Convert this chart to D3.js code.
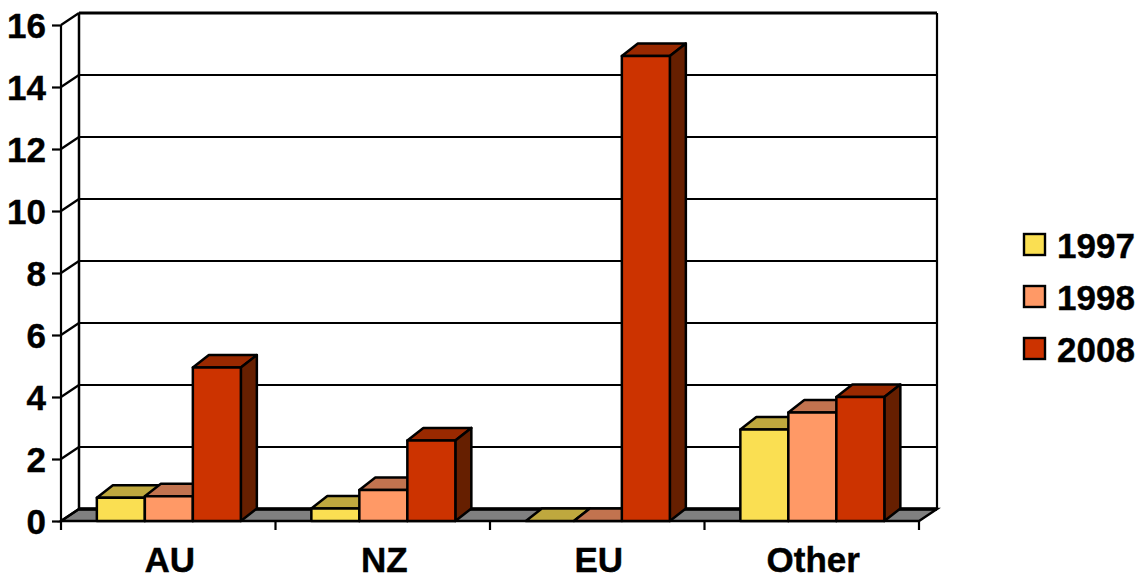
<!DOCTYPE html>
<html>
<head>
<meta charset="utf-8">
<script src="https://cdn.jsdelivr.net/npm/d3@7"></script>
<style>
    html, body { margin: 0; padding: 0; background: #fff; }
    svg { display: block; }
    text { font-family: "Liberation Sans", Arial, sans-serif; font-weight: bold; fill: #000; stroke: #000; stroke-width: 0.4px; }
</style>
</head>
<body>
<div id="chart"></div>
<script>
const categories = ["AU", "NZ", "EU", "Other"];
const seriesNames = ["1997", "1998", "2008"];
const values1997 = [0.75, 0.4, 0, 2.95];
const values1998 = [0.8, 1, 0, 3.5];
const values2008 = [4.95, 2.6, 15, 4];
const yTicks = [0, 2, 4, 6, 8, 10, 12, 14, 16];

const frontColors = ["#fadf52", "#ff9966", "#cc3300"];
const topColors = ["#bfa83e", "#c2734f", "#992900"];
const sideColors = ["#8f7f30", "#995c3d", "#661f00"];

const allValues = [values1997, values1998, values2008];

const width = 1148, height = 579;
const plotLeft = 61, plotRight = 919, plotBottom = 521, plotTop = 25;
const wallDx = 18, wallDy = 12;   // depth of the floor and walls
const barDx = 16, barDy = 12.5;   // depth of a bar

const svg = d3.select("#chart").append("svg")
    .attr("width", width)
    .attr("height", height);

const x = d3.scaleBand().domain(categories).range([plotLeft, plotRight]);
const y = d3.scaleLinear().domain([0, 16]).range([plotBottom, plotTop]);
const inner = d3.scaleBand().domain(seriesNames).range([0, 144]);
const barOffset = (x.bandwidth() - 144) / 2 + 0.6;

const poly = pts => "M" + pts.map(p => p.join(",")).join("L") + "Z";

// floor
svg.append("path")
    .attr("d", poly([[plotLeft, plotBottom], [plotLeft + wallDx, plotBottom - wallDy], [plotRight + wallDx, plotBottom - wallDy], [plotRight, plotBottom]]))
    .attr("fill", "#808080")
    .attr("stroke", "#000")
    .attr("stroke-width", 2.4);

svg.append("line")
    .attr("x1", plotLeft + wallDx).attr("x2", plotRight + wallDx)
    .attr("y1", plotBottom - wallDy).attr("y2", plotBottom - wallDy)
    .attr("stroke", "#000").attr("stroke-width", 3.5);

// grid on the back wall and the left side wall
yTicks.filter(d => d > 0).forEach(d => {
    svg.append("line")
        .attr("x1", plotLeft + wallDx).attr("x2", plotRight + wallDx)
        .attr("y1", y(d) - wallDy).attr("y2", y(d) - wallDy)
        .attr("stroke", "#000")
        .attr("stroke-width", d === 16 ? 2.8 : 1.8);
});
yTicks.forEach(d => {
    svg.append("line")
        .attr("x1", plotLeft).attr("x2", plotLeft + wallDx)
        .attr("y1", y(d)).attr("y2", y(d) - wallDy)
        .attr("stroke", "#000").attr("stroke-width", 2.2);
});
svg.append("line")
    .attr("x1", plotLeft + wallDx).attr("x2", plotLeft + wallDx)
    .attr("y1", y(16) - wallDy).attr("y2", plotBottom - wallDy)
    .attr("stroke", "#000").attr("stroke-width", 2.5);
svg.append("line")
    .attr("x1", plotRight + wallDx).attr("x2", plotRight + wallDx)
    .attr("y1", y(16) - wallDy).attr("y2", plotBottom - wallDy)
    .attr("stroke", "#000").attr("stroke-width", 2.2);

// axes
const yAxis = svg.append("g")
    .attr("transform", `translate(${plotLeft},0)`)
    .call(d3.axisLeft(y).tickValues(yTicks).tickSize(9).tickPadding(6));
yAxis.selectAll("text").attr("font-size", 35).attr("dy", "0.36em");

const xAxis = svg.append("g")
    .attr("transform", `translate(1.5,${plotBottom})`)
    .call(d3.axisBottom(x).tickSize(0).tickPadding(26));
xAxis.selectAll("text").attr("font-size", 35).attr("dy", "0.71em");

[yAxis, xAxis].forEach(g => {
    g.selectAll("line, path").attr("stroke", "#000").attr("stroke-width", 2.2);
});
yAxis.select(".domain").attr("d", `M0,${plotTop}V${plotBottom}`);
xAxis.select(".domain").remove();

svg.append("g").selectAll("line")
    .data(categories.map(c => x(c)).concat(plotRight))
    .join("line")
    .attr("x1", d => d).attr("x2", d => d)
    .attr("y1", plotBottom).attr("y2", plotBottom + 9)
    .attr("stroke", "#000").attr("stroke-width", 2.2);

// bars, left to right so each front covers the side of its neighbour
const lineStyle = sel => sel.attr("stroke", "#000").attr("stroke-width", 2.5).attr("stroke-linejoin", "round");

categories.forEach((cat, c) => {
    seriesNames.forEach((name, s) => {
        const v = allValues[s][c];
        const x0 = x(cat) + barOffset + inner(name);
        const x1 = x0 + inner.bandwidth();
        const yv = y(v);
        const g = svg.append("g");
        g.append("path")
            .attr("d", poly([[x0, yv], [x0 + barDx, yv - barDy], [x1 + barDx, yv - barDy], [x1, yv]]))
            .attr("fill", topColors[s])
            .call(lineStyle);
        if (v > 0) {
            g.append("path")
                .attr("d", poly([[x1, yv], [x1 + barDx, yv - barDy], [x1 + barDx, plotBottom - barDy], [x1, plotBottom]]))
                .attr("fill", sideColors[s])
                .call(lineStyle);
            g.append("path")
                .attr("d", poly([[x0, yv], [x1, yv], [x1, plotBottom], [x0, plotBottom]]))
                .attr("fill", frontColors[s])
                .call(lineStyle);
        }
    });
});

// legend
const legendY = d3.scalePoint().domain(seriesNames).range([245, 349]);
seriesNames.forEach((name, s) => {
    svg.append("rect")
        .attr("x", 1024).attr("y", legendY(name) - 11)
        .attr("width", 21).attr("height", 21)
        .attr("fill", frontColors[s])
        .attr("stroke", "#000").attr("stroke-width", 2.4);
    svg.append("text")
        .attr("x", 1057).attr("y", legendY(name))
        .attr("dy", "0.36em")
        .attr("font-size", 35)
        .text(name);
});
</script>
</body>
</html>
